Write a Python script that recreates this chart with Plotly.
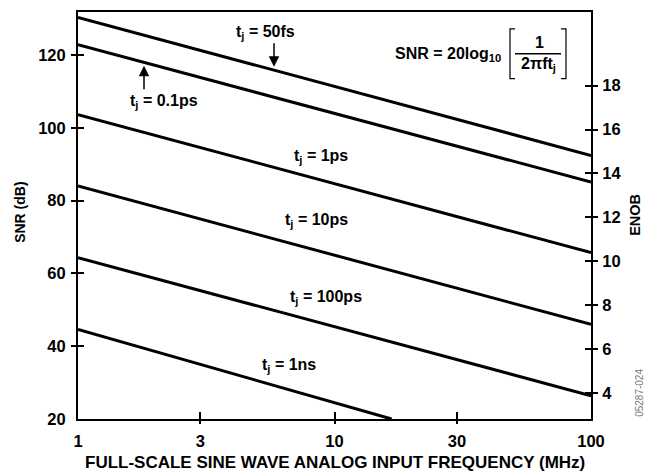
import plotly.graph_objects as go

# ---------------- data ----------------
FREQ_TICKS = [1, 3, 10, 30, 100]
FREQ_TICK_TEXT = ["1", "3", "10", "30", "100"]
SNR_TICKS = [20, 40, 60, 80, 100, 120]
ENOB_TICKS = [4, 6, 8, 10, 12, 14, 16, 18]

JITTER = ["50fs", "0.1ps", "1ps", "10ps", "100ps", "1ns"]
FREQ_START = [1, 1, 1, 1, 1, 1]
SNR_START = [130.3, 122.8, 103.6, 84.0, 64.3, 44.6]
FREQ_END = [100, 100, 100, 100, 100, 16.7]
SNR_END = [92.4, 85.1, 65.7, 46.0, 26.4, 20.0]

SNR_RANGE = [20, 131.8]
ENOB_RANGE = [2.82, 21.35]

# ---------------- layout helpers ----------------
W, H = 645, 475
L, R, T, B = 78, 591, 10, 419.3  # plot area in page pixels
FONT = "Liberation Sans, Arial, Helvetica, sans-serif"


def px(x):
    return (x - L) / (R - L)


def py(y):
    return (B - y) / (B - T)


fig = go.Figure()

for i, name in enumerate(JITTER):
    fig.add_trace(go.Scatter(
        x=[FREQ_START[i], FREQ_END[i]], y=[SNR_START[i], SNR_END[i]],
        mode="lines", line=dict(color="black", width=3),
        name=name, showlegend=False, hoverinfo="skip"))

# empty traces to register overlay axes
for xa, ya in [("x2", "y"), ("x3", "y"), ("x", "y2"), ("x", "y3"),
               ("x", "y4"), ("x", "y5"), ("x", "y6")]:
    fig.add_trace(go.Scatter(x=[], y=[], xaxis=xa, yaxis=ya, showlegend=False, hoverinfo="skip"))

tickfont = dict(family=FONT, size=16.5, color="black", weight="bold")
common = dict(showgrid=False, zeroline=False)


def tick_axis(rng, vals, side, kind, ln, overlay, is_log=False):
    d = dict(range=rng, overlaying=overlay, side=side, tickvals=vals, ticks=kind,
             ticklen=ln, tickwidth=1.5, tickcolor="black", showticklabels=False,
             showline=False, **common)
    if is_log:
        d["type"] = "log"
        d["anchor"] = "y"
    else:
        d["anchor"] = "x"
    return d


fig.update_layout(
    width=W, height=H,
    margin=dict(l=L, r=W - R, t=T, b=round(H - B)),
    paper_bgcolor="white", plot_bgcolor="white",
    showlegend=False,
    xaxis=dict(type="log", range=[0, 2], tickvals=FREQ_TICKS, ticktext=FREQ_TICK_TEXT,
               ticks="", showline=True, linecolor="black", linewidth=2, mirror=True,
               tickfont=tickfont, ticklabelstandoff=6, **common),
    xaxis2=tick_axis([0, 2], FREQ_TICKS[1:-1], "bottom", "outside", 4, "x", True),
    xaxis3=tick_axis([0, 2], FREQ_TICKS[1:-1], "bottom", "inside", 7, "x", True),
    yaxis=dict(range=SNR_RANGE, tickvals=SNR_TICKS, ticks="", showline=True,
               linecolor="black", linewidth=2, tickfont=tickfont, ticklabelstandoff=7, **common),
    yaxis2=dict(range=ENOB_RANGE, overlaying="y", side="right", anchor="x",
                tickvals=ENOB_TICKS, ticks="", showline=True, linecolor="black", linewidth=2,
                tickfont=tickfont, ticklabelstandoff=6, **common),
    yaxis3=tick_axis(ENOB_RANGE, ENOB_TICKS, "right", "inside", 6, "y"),
    yaxis4=tick_axis(SNR_RANGE, SNR_TICKS[1:], "left", "outside", 6, "y"),
    yaxis5=tick_axis(SNR_RANGE, SNR_TICKS[1:], "left", "inside", 6, "y"),
    yaxis6=tick_axis(ENOB_RANGE, ENOB_TICKS, "right", "outside", 6, "y"),
)

ann_font = dict(family=FONT, size=16, color="black")

# curve labels (pixel centres)
LABEL_POS = {
    "50fs": (265, 31), "0.1ps": (164, 100), "1ps": (321, 155),
    "10ps": (316, 220), "100ps": (326, 297), "1ns": (289, 365),
}
for name in JITTER:
    x, y = LABEL_POS[name]
    fig.add_annotation(x=px(x), y=py(y), xref="paper", yref="paper",
                       text=f"<b>t<sub>j</sub> = {name}</b>", showarrow=False,
                       font=ann_font, xanchor="center", yanchor="middle")

# arrows
for (tx, ty, dy) in [(274, 65, -25), (144, 64, 25)]:
    fig.add_annotation(x=px(tx), y=py(ty), xref="paper", yref="paper", text="",
                       showarrow=True, ax=0, ay=dy, arrowhead=2, arrowsize=1.4,
                       arrowwidth=1.5, arrowcolor="black", standoff=0)

# formula
fig.add_annotation(x=px(503), y=py(53), xref="paper", yref="paper",
                   text="<b>SNR = 20log<sub>10</sub></b>", showarrow=False,
                   font=ann_font, xanchor="right", yanchor="middle")
fig.add_annotation(x=px(539), y=py(41), xref="paper", yref="paper",
                   text="<b>1</b>", showarrow=False, font=ann_font,
                   xanchor="center", yanchor="middle")
fig.add_annotation(x=px(538), y=py(63), xref="paper", yref="paper",
                   text="<b>2πft<sub>j</sub></b>", showarrow=False, font=ann_font,
                   xanchor="center", yanchor="middle")
fig.add_shape(type="line", xref="paper", yref="paper", x0=px(515), x1=px(561),
              y0=py(52), y1=py(52), line=dict(color="black", width=1.5))
fig.add_shape(type="path", xref="paper", yref="paper",
              path=f"M {px(515)} {py(27)} L {px(510)} {py(27)} L {px(510)} {py(77)} L {px(515)} {py(77)}",
              line=dict(color="black", width=1.2))
fig.add_shape(type="path", xref="paper", yref="paper",
              path=f"M {px(561)} {py(27)} L {px(566)} {py(27)} L {px(566)} {py(77)} L {px(561)} {py(77)}",
              line=dict(color="black", width=1.2))

# axis titles
fig.add_annotation(x=px(334.5), y=py(463), xref="paper", yref="paper",
                   text="<b>FULL-SCALE SINE WAVE ANALOG INPUT FREQUENCY (MHz)</b>",
                   showarrow=False, font=dict(family=FONT, size=17, color="black"),
                   xanchor="center", yanchor="middle")
fig.add_annotation(x=px(20), y=py(212), xref="paper", yref="paper",
                   text="<b>SNR (dB)</b>", textangle=-90, showarrow=False,
                   font=dict(family=FONT, size=14, color="black"), xanchor="center", yanchor="middle")
fig.add_annotation(x=px(635), y=py(214), xref="paper", yref="paper",
                   text="<b>ENOB</b>", textangle=-90, showarrow=False,
                   font=dict(family=FONT, size=14.5, color="black"), xanchor="center", yanchor="middle")
fig.add_annotation(x=px(640), y=py(393), xref="paper", yref="paper",
                   text="05287-024", textangle=-90, showarrow=False,
                   font=dict(family=FONT, size=10, color="#777777"), xanchor="center", yanchor="middle")

# remove the default page margin so the figure sits at the page origin
fig.write_html("out.html", config={"displayModeBar": False},
               post_script="document.body.style.margin='0';document.body.style.overflow='hidden';")
